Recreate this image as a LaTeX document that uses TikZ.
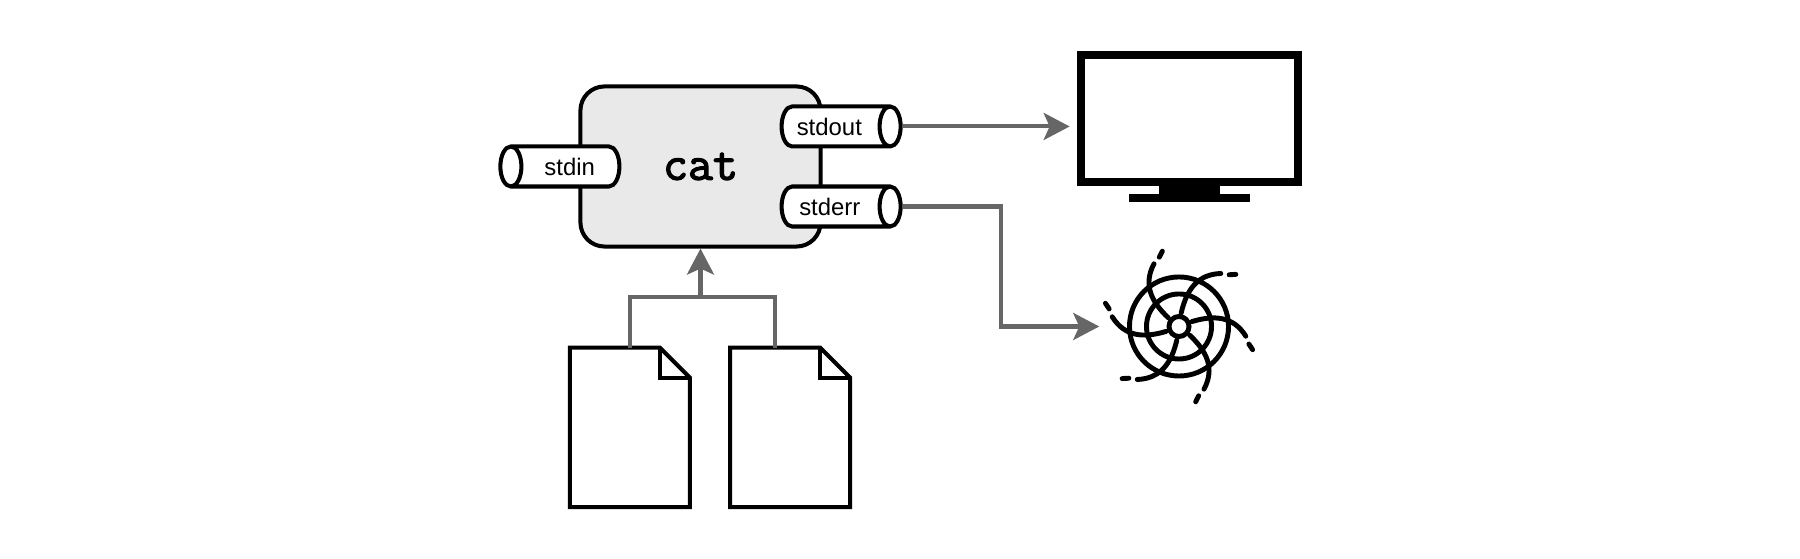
\documentclass[tikz,border=0pt]{standalone}
\usepackage{fontspec}
\setmainfont{Liberation Sans}
\newfontfamily\catfont[FakeBold=2.6]{Latin Modern Mono}
\usepackage{tikz}
\usetikzlibrary{positioning, arrows.meta, shapes.geometric}

\definecolor{flowgray}{HTML}{666666}
\definecolor{boxgray}{HTML}{E9E9E9}

\tikzset{
    procbox/.style={draw, line width=1.15pt, fill=boxgray, rounded corners=0.24cm, minimum width=2.4cm, minimum height=1.6cm, inner sep=0pt, font=\catfont\fontsize{13.8}{15}\selectfont},
    port/.style={draw, line width=1.15pt, fill=white, shape=cylinder, aspect=1.2, minimum width=0.4cm, minimum height=1.19cm, inner sep=0pt, font=\fontsize{6.8}{8}\selectfont},
    page/.style={minimum width=1.2cm, minimum height=1.595cm, inner sep=0pt, outer sep=0pt},
    pageline/.style={line width=1.15pt, fill=white, miter limit=10},
    flow/.style={draw=flowgray, line width=1.15pt, -{Stealth[length=0.26cm, width=0.27cm, inset=0.06cm]}},
    flowplain/.style={draw=flowgray, line width=1.15pt},
    solid block/.style={fill=black, inner sep=0pt, outer sep=0pt},
    swirl/.style={line width=1.4pt, line cap=round}
}

\begin{document}
\begin{tikzpicture}[x=0.01cm, y=-0.01cm]
    \useasboundingbox (0,0) rectangle (1800,559);

    \node [procbox] (cat) at (700.5,166.5) {cat};
    \node [port, shape border rotate=180, left=-0.43cm of cat] (stdin) {\hspace*{0.07cm}stdin};
    \node [port, right=-0.43cm of cat, yshift=0.4cm] (stdout) {\hspace*{-0.11cm}stdout};
    \node [port, right=-0.43cm of cat, yshift=-0.4cm] (stderr) {\hspace*{-0.1cm}stderr};

    \node [page, below=0.99cm of cat, xshift=-0.705cm] (doca) {};
    \node [page, right=0.4cm of doca] (docb) {};
    \coordinate (merge) at (700.5,297);

    % monitor
    \node [draw, line width=2.28pt, minimum width=2.175cm, minimum height=1.275cm, inner sep=0pt] (screen) at (1189.5,118.5) {};
    \node [solid block, minimum width=0.6cm, minimum height=0.08cm, below=0pt of screen] (neck) {};
    \node [solid block, minimum width=1.21cm, minimum height=0.08cm, below=0pt of neck] (stand) {};

    \node [circle, minimum size=1.52cm, inner sep=0pt] (hole) at (1179,326.5) {};

    % pagine
    \foreach \d in {doca, docb} {
        \draw [pageline] (\d.north west) -- ++(90,0) -- ++(30,30) |- (\d.south west) -- cycle;
        \draw [pageline, fill=none] ([xshift=0.9cm]\d.north west) |- ++(30,30);
    }

    \draw [flowplain] (doca.north) |- (merge);
    \draw [flowplain] ([xshift=-0.15cm]docb.north) |- (merge);
    \draw [flow] (merge) -- (cat.south);
    \draw [flow, shorten >=0.07cm] (stdout.east) -- (stdout.east -| screen.west);
    \draw [flow, shorten >=0.03cm] (stderr.east) -- ++(98,0) |- (hole.west);

    % vortice
    \begin{scope}[shift={(hole.center)}]
        \draw [swirl] (0,0) circle (0.1cm);
        \draw [swirl] (0,0) circle (0.325cm);
        \draw [swirl] (0,0) circle (0.495cm);
        \foreach \a in {0,60,...,300} {
            \draw [swirl, rotate=\a] (-10.7,-8.7) .. controls (-28,-25) and (-36,-42) .. (-25,-62.7);
            \draw [swirl, rotate=\a] (-19.7,-69.3) -- (-16.7,-75.3);
        }
    \end{scope}
\end{tikzpicture}
\end{document}
